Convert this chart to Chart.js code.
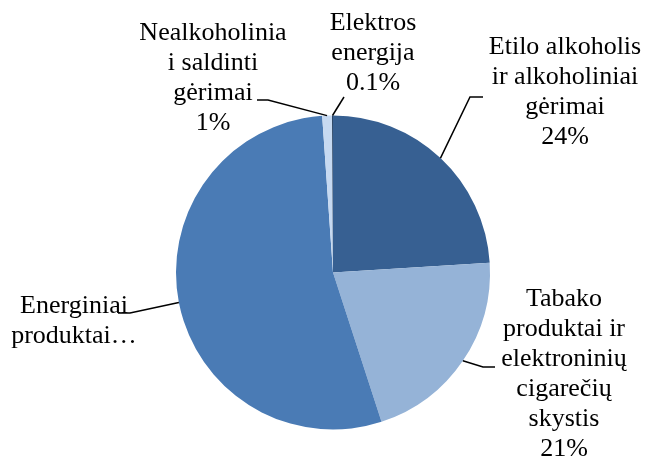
<!DOCTYPE html>
<html>
<head>
<meta charset="utf-8">
<script src="https://cdn.jsdelivr.net/npm/chart.js@4/dist/chart.umd.min.js"></script>
<style>
html,body{margin:0;padding:0;background:#fff;}
#wrap{width:647px;height:460px;position:relative;}
</style>
</head>
<body>
<div id="wrap"><canvas id="c" width="647" height="460"></canvas></div>
<script>
// ---- data ----
const categories = [
  ["Etilo alkoholis", "ir alkoholiniai", "gėrimai"],
  ["Tabako", "produktai ir", "elektroninių", "cigarečių", "skystis"],
  ["Energiniai", "produktai…"],
  ["Nealkoholinia", "i saldinti", "gėrimai"],
  ["Elektros", "energija"]
];
const values = [24, 21, 53.9, 1, 0.1];
const valueLabels = ["24%", "21%", "", "1%", "0.1%"];
const colors = ["#376092", "#95B3D7", "#4A7BB5", "#C6D9F1", "#254061"];

// ---- label layout (positions only) ----
const labelLayout = [
  { cx: 565, y0: 54,  elbow: [470, 97],  end: [483, 97] },
  { cx: 564, y0: 306, elbow: [483, 367], end: [495, 367] },
  { cx: 74,  y0: 313, elbow: [130, 313], end: [118, 313] },
  { cx: 213, y0: 40,  elbow: [268, 100], end: [257, 100] },
  { cx: 373, y0: 30,  elbow: [344, 97],  end: null }
];

const labelPlugin = {
  id: 'pieLabels',
  afterDraw(chart) {
    const ctx = chart.ctx;
    const meta = chart.getDatasetMeta(0);
    ctx.save();
    ctx.font = '26px "Liberation Serif", serif';
    ctx.fillStyle = '#000';
    ctx.textAlign = 'center';
    ctx.textBaseline = 'alphabetic';
    ctx.strokeStyle = '#000';
    ctx.lineWidth = 1.5;
    meta.data.forEach((arc, i) => {
      const p = arc.getProps(['x','y','startAngle','endAngle','outerRadius'], true);
      const mid = (p.startAngle + p.endAngle) / 2;
      const ax = p.x + Math.cos(mid) * p.outerRadius;
      const ay = p.y + Math.sin(mid) * p.outerRadius;
      const L = labelLayout[i];
      ctx.beginPath();
      ctx.moveTo(ax, ay);
      ctx.lineTo(L.elbow[0], L.elbow[1]);
      if (L.end) ctx.lineTo(L.end[0], L.end[1]);
      ctx.stroke();
      const lines = categories[i].slice();
      if (valueLabels[i]) lines.push(valueLabels[i]);
      lines.forEach((t, k) => ctx.fillText(t, L.cx, L.y0 + k * 30));
    });
    ctx.restore();
  }
};

function build() {
  new Chart(document.getElementById('c'), {
    type: 'pie',
    data: {
      labels: categories.map(c => c.join(' ')),
      datasets: [{
        data: values,
        backgroundColor: colors,
        borderWidth: 0
      }]
    },
    options: {
      responsive: false,
      animation: false,
      layout: { padding: { top: 115.5, bottom: 30.5, left: 176, right: 157 } },
      plugins: { legend: { display: false }, tooltip: { enabled: false } }
    },
    plugins: [labelPlugin]
  });
}
if (document.fonts && document.fonts.load) {
  document.fonts.load('26px "Liberation Serif"').then(build, build);
} else {
  build();
}
</script>
</body>
</html>
